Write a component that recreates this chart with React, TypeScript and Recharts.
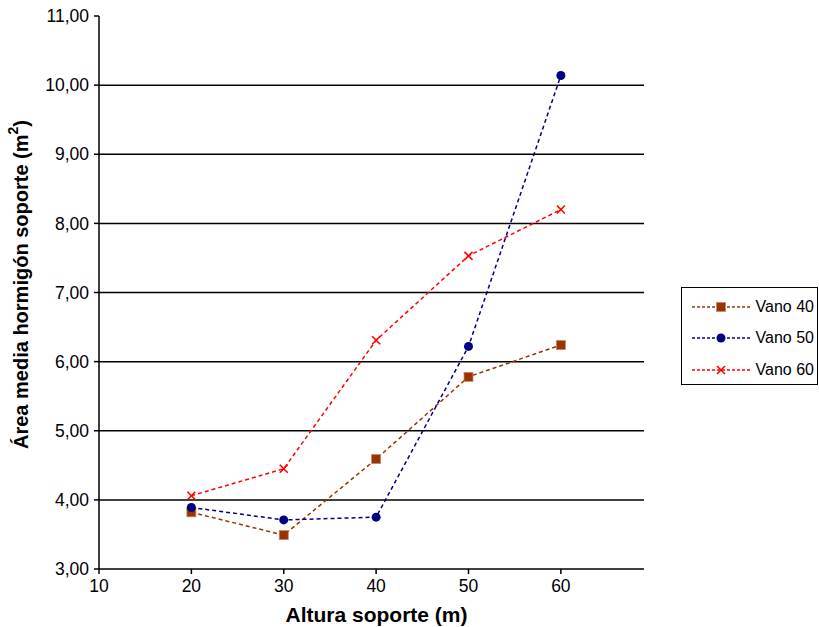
import React from "react";
import {
  CartesianGrid,
  Legend,
  Line,
  LineChart,
  XAxis,
  YAxis,
} from "recharts";

const alturas = [20, 30, 40, 50, 60];
const vano40 = [3.82, 3.49, 4.59, 5.78, 6.24];
const vano50 = [3.89, 3.71, 3.75, 6.22, 10.14];
const vano60 = [4.06, 4.45, 6.31, 7.53, 8.2];
const xTicks = [10, 20, 30, 40, 50, 60];
const yTicks = [3, 4, 5, 6, 7, 8, 9, 10, 11];
const gridValues = [4, 5, 6, 7, 8, 9, 10];

const series = [
  { key: "v40", name: "Vano 40", color: "#993300", shape: "square" },
  { key: "v50", name: "Vano 50", color: "#000080", shape: "circle" },
  { key: "v60", name: "Vano 60", color: "#ff0000", shape: "cross" },
];

const data = alturas.map((a, i) => ({
  altura: a,
  v40: vano40[i],
  v50: vano50[i],
  v60: vano60[i],
}));

const FONT = "'Liberation Sans', Arial, sans-serif";

function Marker({ cx, cy, shape, color }: any) {
  if (cx == null || cy == null) return null;
  if (shape === "square")
    return <rect x={cx - 4.5} y={cy - 4.5} width={9} height={9} fill={color} stroke="#c8876a" strokeWidth={0.8} />;
  if (shape === "circle") return <circle cx={cx} cy={cy} r={4.5} fill={color} />;
  return (
    <g stroke={color} strokeWidth={1.6}>
      <line x1={cx - 4} y1={cy - 4} x2={cx + 4} y2={cy + 4} />
      <line x1={cx - 4} y1={cy + 4} x2={cx + 4} y2={cy - 4} />
    </g>
  );
}

function LegendBox() {
  return (
    <div
      style={{
        border: "1.5px solid #000",
        width: 137,
        height: 98,
        boxSizing: "border-box",
        background: "#fff",
        fontFamily: FONT,
        fontSize: 16,
        paddingTop: 3,
      }}
    >
      {series.map((s) => (
        <div key={s.key} style={{ display: "flex", alignItems: "center", height: 31.5 }}>
          <svg width={64} height={14} style={{ marginLeft: 9.5 }}>
            <line x1={0} y1={7} x2={58} y2={7} stroke={s.color} strokeWidth={1.5} strokeDasharray="3 2" />
            <Marker cx={29} cy={7} shape={s.shape} color={s.color} />
          </svg>
          <span style={{ color: "#000" }}>{s.name}</span>
        </div>
      ))}
    </div>
  );
}

function YLabel({ viewBox }: any) {
  const cx = 21;
  const cy = viewBox.y + viewBox.height / 2 - 8;
  return (
    <text
      x={cx}
      y={cy}
      transform={`rotate(-90 ${cx} ${cy})`}
      textAnchor="middle"
      dominantBaseline="central"
      fontFamily={FONT}
      fontWeight="bold"
      fontSize={20}
      fill="#000"
    >
      Área media hormigón soporte (m
      <tspan baselineShift="super" fontSize={14}>2</tspan>)
    </text>
  );
}

const fmt = (v: number) => v.toFixed(2).replace(".", ",");

export default function App() {
  return (
    <div style={{ position: "absolute", left: 0, top: 0, background: "#fff" }}>
      <LineChart
        width={819}
        height={627}
        data={data}
        margin={{ top: 16, right: 38, bottom: 0, left: 0 }}
      >
        <CartesianGrid vertical={false} horizontalValues={gridValues} stroke="#000" strokeWidth={1.5} />
        <XAxis
          dataKey="altura"
          type="number"
          domain={[10, 69]}
          ticks={xTicks}
          height={58}
          stroke="#000"
          strokeWidth={1.5}
          tickSize={5}
          tick={{ fill: "#000", fontSize: 17.5, fontFamily: FONT }}
          tickMargin={6}
          label={{
            value: "Altura soporte (m)",
            position: "insideBottom",
            offset: 5,
            dx: 5,
            fill: "#000",
            fontSize: 21,
            fontWeight: "bold",
            fontFamily: FONT,
          }}
        />
        <YAxis
          domain={[3, 11]}
          ticks={yTicks}
          width={99}
          stroke="#000"
          strokeWidth={1.5}
          tickSize={5}
          tickMargin={5}
          tickFormatter={fmt}
          tick={{ fill: "#000", fontSize: 17.5, fontFamily: FONT }}
          label={<YLabel />}
        />
        <Legend
          layout="vertical"
          align="right"
          verticalAlign="top"
          wrapperStyle={{ width: 137, right: 1, top: 287 }}
          content={() => <LegendBox />}
        />
        {series.map((s) => (
          <Line
            key={s.key}
            dataKey={s.key}
            name={s.name}
            type="linear"
            stroke={s.color}
            strokeWidth={1.5}
            strokeDasharray="4 3"
            isAnimationActive={false}
            dot={(p: any) => <Marker key={p.index} cx={p.cx} cy={p.cy} shape={s.shape} color={s.color} />}
            activeDot={false}
          />
        ))}
      </LineChart>
    </div>
  );
}
